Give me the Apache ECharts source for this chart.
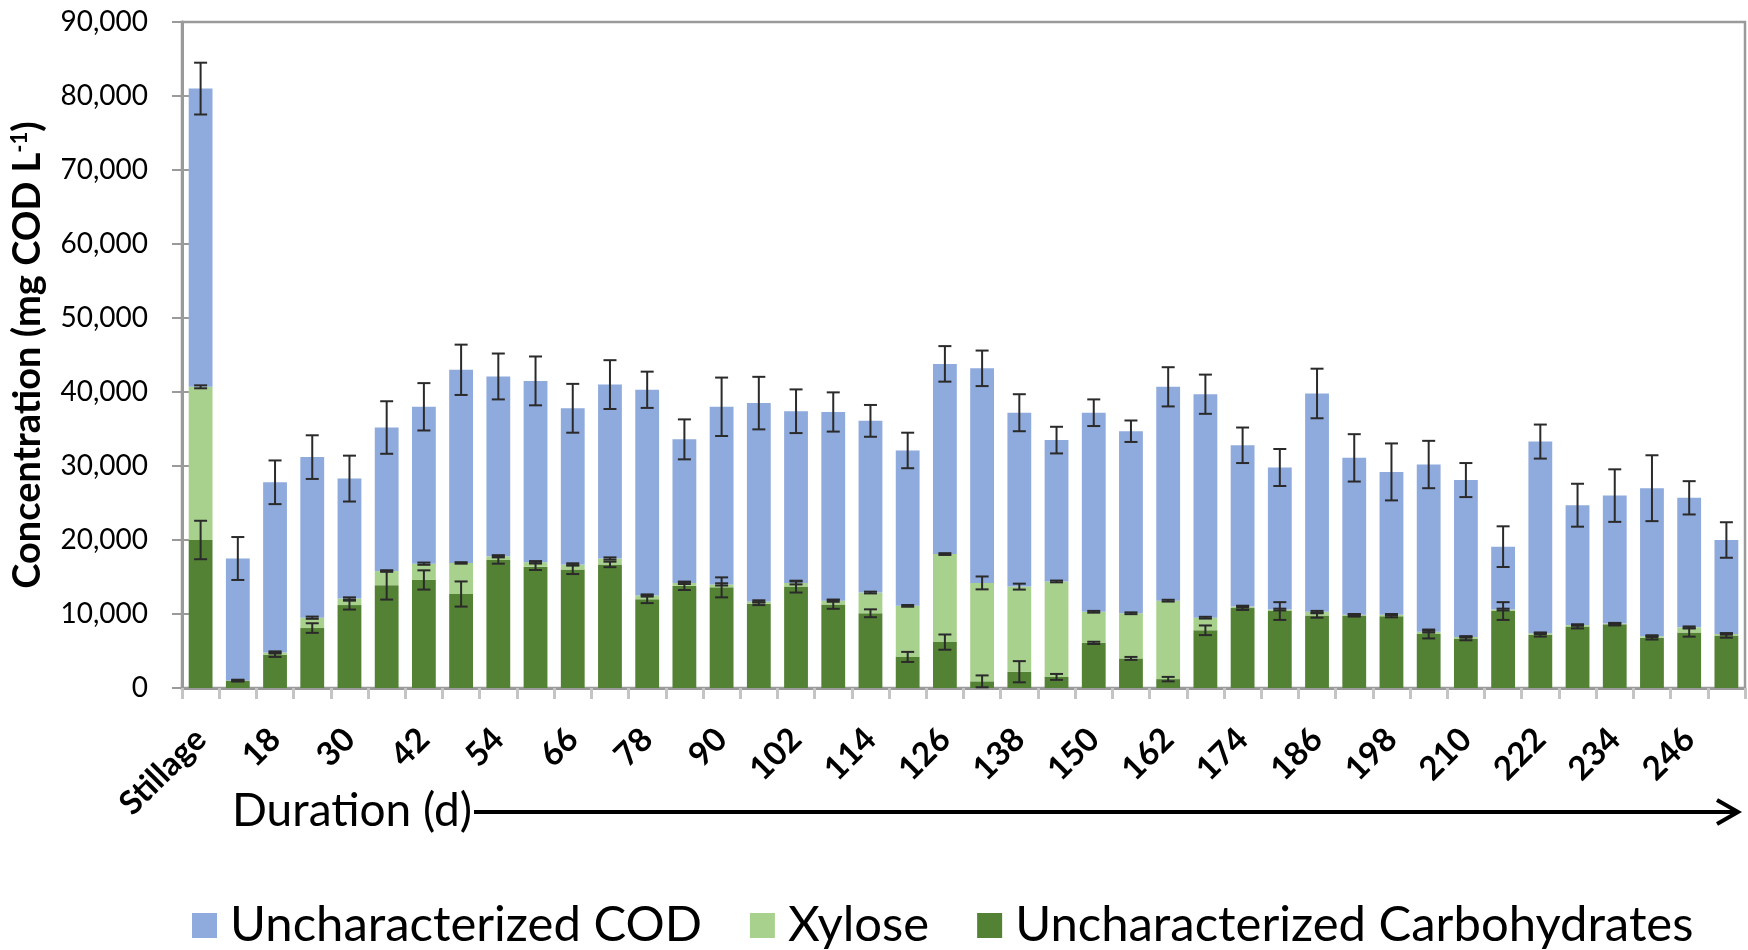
<!DOCTYPE html>
<html>
<head>
<meta charset="utf-8">
<script src="https://cdn.jsdelivr.net/npm/echarts@6/dist/echarts.min.js"></script>
<style>html,body{margin:0;padding:0;background:#fff}#c{width:1748px;height:950px}</style>
</head>
<body>
<div id="c"></div>
<script>
const categories = ['Stillage','12','18','24','30','36','42','48','54','60','66','72','78','84','90','96','102','108','114','120','126','132','138','144','150','156','162','168','174','180','186','192','198','204','210','216','222','228','234','240','246','252'];
const carbs = [20000,1000,4500,8100,11200,13900,14600,12700,17300,16400,16000,16700,12000,13800,13600,11400,13700,11300,10100,4200,6200,900,2200,1500,6100,4000,1200,7800,10800,10400,9800,9800,9700,7300,6700,10400,7200,8300,8600,6800,7500,7100];
const xylose = [20700,0,300,1400,900,1900,2200,4200,500,600,700,800,500,400,400,300,500,500,2800,6900,11900,13300,11500,12900,4200,6100,10600,1700,200,200,500,100,200,300,200,200,200,200,100,200,700,200];
const uncharCOD = [40300,16500,23000,21700,16200,19400,21200,26100,24300,24500,21100,23500,27800,19400,24000,26800,23200,25500,23200,21000,25700,29000,23500,19100,26900,24600,28900,30200,21800,19200,29500,21200,19300,22600,21200,8500,25900,16200,17300,20000,17500,12700];
const carbErr = [2600,100,300,650,600,1950,1300,1700,500,450,600,370,530,560,1350,200,800,600,530,680,1030,800,1430,400,150,200,300,650,250,1200,300,150,150,600,250,1200,250,250,150,250,560,300];
const xyloseErr = [200,100,150,150,150,100,150,100,150,150,150,150,150,150,150,150,200,150,120,120,120,870,400,120,120,120,120,120,120,120,120,100,100,120,100,120,100,100,100,120,120,100];
const codErr = [3500,2900,2950,2950,3100,3550,3200,3400,3100,3300,3300,3300,2450,2700,3950,3550,2950,2650,2150,2400,2400,2400,2500,1800,1800,1450,2650,2650,2400,2500,3350,3200,3850,3200,2300,2750,2300,2900,3550,4450,2250,2400];
const yTicks = {min: 0, max: 90000, interval: 10000};

const FONT = 'Lato';
const errData = [];
categories.forEach((c, i) => {
  const t1 = carbs[i], t2 = carbs[i] + xylose[i], t3 = t2 + uncharCOD[i];
  errData.push([i, t1, carbErr[i]]);
  errData.push([i, t2, xyloseErr[i]]);
  errData.push([i, t3, codErr[i]]);
});

const chart = echarts.init(document.getElementById('c'));
chart.setOption({
  animation: false,
  textStyle: {fontFamily: FONT},
  grid: {left: 182, right: 3, top: 22, bottom: 262, show: true, borderColor: '#9a9a9a', borderWidth: 2.5, containLabel: false},
  legend: {
    data: ['Uncharacterized COD', 'Xylose', 'Uncharacterized Carbohydrates'],
    left: 187, top: 896, itemWidth: 25, itemHeight: 25, itemGap: 48,
    icon: 'rect',
    textStyle: {fontFamily: FONT, fontSize: 49, color: '#000', padding: [0, 0, 0, 8]}
  },
  xAxis: {
    type: 'category', data: categories,
    axisLine: {lineStyle: {color: '#9a9a9a', width: 3}},
    axisTick: {show: true, interval: 0, length: 11, lineStyle: {color: '#c4c4c4', width: 3}},
    axisLabel: {interval: 1, rotate: 45, margin: 46, color: '#000', fontFamily: FONT, fontWeight: 'bold', fontSize: 33}
  },
  yAxis: [{
    type: 'value', min: yTicks.min, max: yTicks.max, interval: yTicks.interval,
    splitLine: {show: false},
    axisLine: {show: true, lineStyle: {color: '#9a9a9a', width: 3}},
    axisTick: {show: true, length: 10, lineStyle: {color: '#9a9a9a', width: 2}},
    axisLabel: {margin: 34, color: '#000', fontFamily: FONT, fontSize: 28, formatter: v => v.toLocaleString('en-US')},
    name: '{a|Concentration (mg COD L}{s|-1}{a|)}',
    nameLocation: 'middle', nameRotate: 90, nameGap: 135,
    nameTextStyle: {rich: {
      a: {fontFamily: FONT, fontWeight: 'bold', fontSize: 38, color: '#000'},
      s: {fontFamily: FONT, fontWeight: 'bold', fontSize: 22, color: '#000', verticalAlign: 'top', lineHeight: 38}
    }}
  }, {
    type: 'value', min: yTicks.min, max: yTicks.max, interval: yTicks.interval, position: 'left',
    splitLine: {show: false}, axisLine: {show: false}, axisLabel: {show: false},
    axisTick: {show: true, inside: true, length: 10, lineStyle: {color: '#9a9a9a', width: 2}}
  }],
  series: [
    {name: 'Uncharacterized Carbohydrates', type: 'bar', stack: 's', data: carbs, barWidth: '64%', itemStyle: {color: '#548235'}},
    {name: 'Xylose', type: 'bar', stack: 's', data: xylose, itemStyle: {color: '#A9D18E'}},
    {name: 'Uncharacterized COD', type: 'bar', stack: 's', data: uncharCOD, itemStyle: {color: '#8FAADC'}},
    {
      type: 'custom', name: 'err', z: 10, data: errData,
      encode: {x: 0, y: 1},
      renderItem: function (params, api) {
        const i = api.value(0), v = api.value(1), e = api.value(2);
        const hi = api.coord([i, v + e]), lo = api.coord([i, v - e]);
        const w = 6.5;
        const st = {stroke: '#2a2a2a', lineWidth: 2};
        return {type: 'group', children: [
          {type: 'line', shape: {x1: hi[0], y1: hi[1], x2: lo[0], y2: lo[1]}, style: st},
          {type: 'line', shape: {x1: hi[0] - w, y1: hi[1], x2: hi[0] + w, y2: hi[1]}, style: st},
          {type: 'line', shape: {x1: lo[0] - w, y1: lo[1], x2: lo[0] + w, y2: lo[1]}, style: st}
        ]};
      }
    }
  ],
  graphic: [
    {type: 'text', left: 232, top: 788, style: {text: 'Duration (d)', fontFamily: FONT, fontSize: 46, fill: '#000'}},
    {type: 'line', shape: {x1: 474, y1: 812, x2: 1736, y2: 812}, style: {stroke: '#000', lineWidth: 4}},
    {type: 'polyline', shape: {points: [[1717, 800], [1738, 812], [1717, 824]]}, style: {stroke: '#000', lineWidth: 4, fill: null}}
  ]
});
</script>
</body>
</html>
